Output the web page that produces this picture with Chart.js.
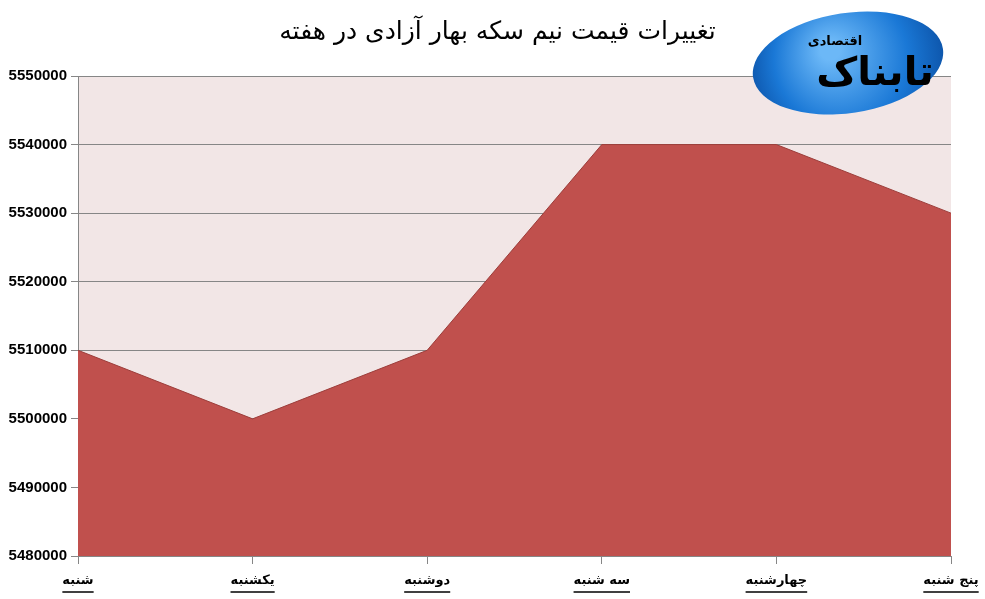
<!DOCTYPE html>
<html lang="fa">
<head>
    <meta charset="UTF-8">
    <title>تغییرات قیمت نیم سکه بهار آزادی در هفته</title>
    <script src="https://cdn.jsdelivr.net/npm/chart.js"></script>
    <style>
        body { margin: 0; background: #fff; }
        #wrap { width: 985px; height: 599px; }
    </style>
</head>
<body>
    <div id="wrap"><canvas id="coinChart"></canvas></div>

    <script>
        // days of the week (Saturday .. Thursday)
        const days = ['شنبه', 'یکشنبه', 'دوشنبه', 'سه شنبه', 'چهارشنبه', 'پنج شنبه'];
        const prices = [5510000, 5500000, 5510000, 5540000, 5540000, 5530000];
        const yMin = 5480000;
        const yMax = 5550000;
        const yStep = 10000;
        const chartTitle = 'تغییرات قیمت نیم سکه بهار آزادی در هفته';

        // pale pink plot background
        const plotBg = {
            id: 'plotBg',
            beforeDraw(chart) {
                const { ctx, chartArea: a } = chart;
                ctx.save();
                ctx.fillStyle = '#F2E6E6';
                ctx.fillRect(a.left, a.top, a.right - a.left, a.bottom - a.top);
                ctx.restore();
            }
        };

        // title sits a bit right of centre in the original
        const titleText = {
            id: 'titleText',
            afterDraw(chart) {
                const { ctx } = chart;
                ctx.save();
                ctx.fillStyle = '#000';
                ctx.textAlign = 'center';
                ctx.textBaseline = 'middle';
                ctx.font = '25px "DejaVu Sans"';
                ctx.fillText(chartTitle, chart.width / 2 + 5, 32);
                ctx.restore();
            }
        };

        // underline the day labels like the original
        const underline = {
            id: 'underline',
            afterDraw(chart) {
                const { ctx } = chart;
                const xs = chart.scales.x;
                ctx.save();
                ctx.font = 'bold 13px "DejaVu Sans"';
                ctx.strokeStyle = '#000';
                ctx.lineWidth = 1.5;
                xs.ticks.forEach((t, i) => {
                    const x = xs.getPixelForTick(i);
                    const w = ctx.measureText(days[i]).width;
                    const y = xs.bottom - 7;
                    ctx.beginPath();
                    ctx.moveTo(x - w / 2, y);
                    ctx.lineTo(x + w / 2, y);
                    ctx.stroke();
                });
                ctx.restore();
            }
        };

        // rough stand-in for the site logo
        const logo = {
            id: 'logo',
            afterDraw(chart) {
                const { ctx } = chart;
                ctx.save();
                const g = ctx.createRadialGradient(830, 50, 10, 848, 64, 105);
                g.addColorStop(0, '#6cb8f7');
                g.addColorStop(0.6, '#1a78d6');
                g.addColorStop(1, '#0b4fa3');
                ctx.fillStyle = g;
                ctx.beginPath();
                ctx.ellipse(848, 63, 96, 50, -0.15, 0, Math.PI * 2);
                ctx.fill();
                ctx.fillStyle = '#000';
                ctx.textAlign = 'center';
                ctx.textBaseline = 'middle';
                ctx.font = 'bold 40px "DejaVu Sans"';
                ctx.fillText('تابناک', 875, 75);
                ctx.font = 'bold 13px "DejaVu Sans"';
                ctx.fillText('اقتصادی', 835, 42);
                ctx.restore();
            }
        };

        new Chart(document.getElementById('coinChart'), {
            type: 'line',
            data: {
                labels: days,
                datasets: [{
                    data: prices,
                    fill: 'start',
                    backgroundColor: '#C0504D',
                    borderColor: '#9C3E3B',
                    borderWidth: 1,
                    pointRadius: 0,
                    tension: 0
                }]
            },
            options: {
                responsive: true,
                maintainAspectRatio: false,
                animation: false,
                layout: { padding: { top: 76, right: 34, left: 0, bottom: 0 } },
                plugins: {
                    legend: { display: false },
                    tooltip: { enabled: false },
                    title: { display: false }
                },
                scales: {
                    x: {
                        offset: false,
                        grid: { drawOnChartArea: false, drawTicks: true, tickLength: 8, color: '#868686' },
                        border: { color: '#868686' },
                        ticks: {
                            color: '#000',
                            maxRotation: 0,
                            padding: 9,
                            font: { family: 'DejaVu Sans', size: 13, weight: 'bold' }
                        },
                        afterFit(s) { s.height = 43; s.paddingRight = 0; }
                    },
                    y: {
                        min: yMin,
                        max: yMax,
                        grid: { color: '#868686', tickLength: 7 },
                        border: { color: '#868686' },
                        ticks: {
                            stepSize: yStep,
                            color: '#000',
                            padding: 4,
                            font: { family: 'Liberation Sans', size: 15, weight: 'bold' },
                            callback: v => String(v)
                        },
                        afterFit(s) { s.width = 78; }
                    }
                }
            },
            plugins: [plotBg, titleText, underline, logo]
        });
    </script>
</body>
</html>
